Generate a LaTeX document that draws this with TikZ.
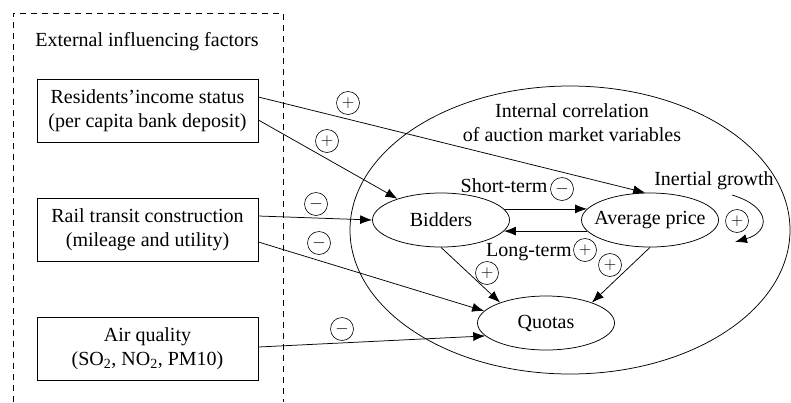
\documentclass[tikz,border=0pt]{standalone}
\usepackage{fontspec}
\setmainfont{Liberation Serif}
\usetikzlibrary{shapes.geometric,arrows.meta}
\newcommand{\vtext}[1]{\makebox[0pt]{#1}}
\begin{document}
\begin{tikzpicture}[x=1pt,y=-1pt,line width=0.75pt,
    every node/.style={font=\fontsize{20}{24}\selectfont},
    factor/.style={draw,rectangle,minimum width=221,minimum height=63,align=center,inner sep=0},
    var/.style={draw,ellipse,minimum width=137,minimum height=54,inner sep=0},
    sign/.style={draw,circle,minimum size=23,inner sep=0,line width=0.6pt,font=\fontsize{17}{17}\selectfont},
    arr/.style={-{Latex[length=12pt,width=9pt]}}]
        \useasboundingbox (0,0) rectangle (791,402);
        % 外部因素
        \draw[dash pattern=on 6pt off 5pt] (13,402) -- (13,13) -- (283,13) -- (283,402);
        \node (ext) at (147,42) {External influencing factors};
        \node[factor] (res) at (147.5,110.5) {Residents’income status\\(per capita bank deposit)};
        \node[factor] (rail) at (147.5,229.5) {Rail transit construction\\(mileage and utility)};
        \node[factor] (air) at (147.5,349) {Air quality\\(SO\textsubscript{2}, NO\textsubscript{2}, PM10)};
        % 内部变量
        \node[draw,ellipse,minimum width=440,minimum height=288,inner sep=0] (inner) at (570,230) {};
        \node[align=center] (title) at (572,123) {Internal correlation\\of auction market variables};
        \node[var] (bid) at (441,220) {\vtext{Bidders}};
        \node[var] (avg) at (650,220) {\vtext{Average price}};
        \node[var] (quo) at (546,323) {\vtext{Quotas}};
        \coordinate (loopa) at (732,195);
        \coordinate (loopb) at (735,242);
        % 绘制箭头
        \draw[arr] ([yshift=13.5pt]res.east) -- (avg.100);
        \draw[arr] ([yshift=-9.5pt]res.east) -- (bid.154);
        \draw[arr] ([yshift=13.5pt]rail.east) -- (bid.west);
        \draw[arr] ([yshift=-12.5pt]rail.east) -- (quo.169);
        \draw[arr] ([yshift=2pt]air.east) -- (quo.192);
        \draw[arr] (bid.10) -- (avg.170);
        \draw[arr] (avg.190) -- (bid.350);
        \draw[arr] (bid.south) -- (quo.156);
        \draw[arr] (avg.south) -- (quo.24);
        \draw[arr] (loopa) .. controls (772,207) and (770,232) .. (loopb);
        % 标记
        \node (short) at (504,186) {Short-term};
        \node (long) at (529,252) {Long-term};
        \node (inert) at (714,181) {Inertial growth};
        \node[sign] (s1) at (348,103) {$+$};
        \node[sign] (s2) at (327,141) {$+$};
        \node[sign] (s3) at (316,204) {$-$};
        \node[sign] (s4) at (319,243) {$-$};
        \node[sign] (s5) at (342,329) {$-$};
        \node[sign] (s6) at (562,189) {$-$};
        \node[sign] (s7) at (585,250) {$+$};
        \node[sign] (s8) at (737,221) {$+$};
        \node[sign] (s9) at (487,273) {$+$};
        \node[sign] (s10) at (610,265) {$+$};
    \end{tikzpicture}
\end{document}
